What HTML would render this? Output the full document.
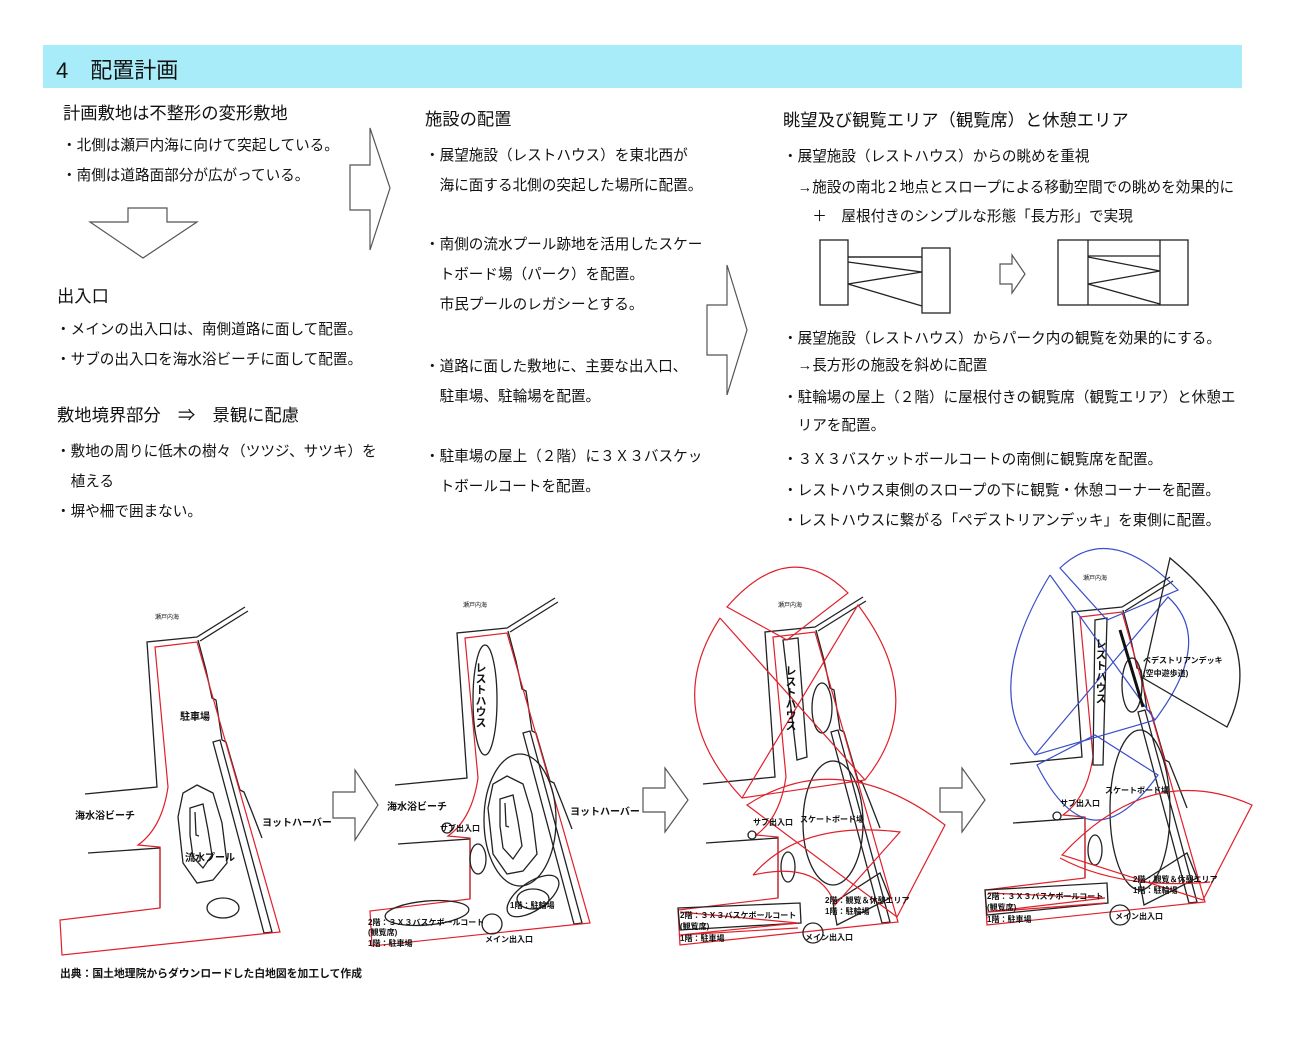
<!DOCTYPE html>
<html><head><meta charset="utf-8"><style>
html,body{margin:0;padding:0;background:#fff;}
svg{display:block;}
text{font-family:"Liberation Sans","Noto Sans CJK JP",sans-serif;fill:#111;}
.t{font-size:14.6px;}
.h{font-size:17.3px;}
.s{font-size:10px;font-weight:bold;}
.xs{font-size:6px;}
.k{fill:none;stroke:#222;stroke-width:1.3;}
.r{fill:none;stroke:#e0202a;stroke-width:1.2;}
.b{fill:none;stroke:#3b4fc8;stroke-width:1.2;}
.ar{fill:#fff;stroke:#555;stroke-width:1.2;}
</style></head><body>
<svg width="1300" height="1060" viewBox="0 0 1300 1060" xmlns="http://www.w3.org/2000/svg">
<defs>
<g id="base">
 <polyline class="k" points="245,607 197,637 147,642 157,787 85,794"/>
 <polyline class="k" points="248,611 200,641"/>
 <polyline class="k" points="198,640 206,670 212,698 216,700 222,740 226,742 240,790 244,792 252,812 262,838"/>
 <polygon class="k" points="213,742 220,740 272,932 264,933"/>
 <polyline class="k" points="88,853 160,848 160,908"/>
 <path class="r" d="M155,647 L197,642 L280,932 L62,955 L60,920 L160,908 L160,847 L138,845 Q162,828 168,787 Z"/>
</g>
<g id="pool">
 <polygon class="k" points="197,785 213,793 222,823 227,863 213,880 197,883 183,863 178,817 183,793"/>
 <polygon class="k" points="190,808 203,804 208,830 212,855 203,868 193,857 190,835"/>
 <polyline class="k" points="195,812 196,835 199,836"/>
 <ellipse class="k" cx="223" cy="908" rx="16" ry="10"/>
</g>
</defs>

<!-- header -->
<rect x="43" y="45" width="1199" height="43" fill="#a8ecfa"/>
<text x="56" y="78" style="font-size:22px">4　配置計画</text>

<!-- column 1 -->
<text class="h" x="63" y="119">計画敷地は不整形の変形敷地</text>
<text class="t" x="62" y="150">・北側は瀬戸内海に向けて突起している。</text>
<text class="t" x="62" y="180">・南側は道路面部分が広がっている。</text>
<polygon class="ar" points="128,208 167,208 167,222 197,222 143,258 90,222 128,222"/>
<text class="h" x="57" y="302">出入口</text>
<text class="t" x="56" y="334">・メインの出入口は、南側道路に面して配置。</text>
<text class="t" x="56" y="364">・サブの出入口を海水浴ビーチに面して配置。</text>
<text class="h" x="57" y="421">敷地境界部分　⇒　景観に配慮</text>
<text class="t" x="56" y="456">・敷地の周りに低木の樹々（ツツジ、サツキ）を</text>
<text class="t" x="56" y="486">　植える</text>
<text class="t" x="56" y="516">・塀や柵で囲まない。</text>
<polygon class="ar" points="350,165 370,165 370,128 390,188 370,250 370,210 350,210"/>

<!-- column 2 -->
<text class="h" x="425" y="125">施設の配置</text>
<text class="t" x="425" y="160">・展望施設（レストハウス）を東北西が</text>
<text class="t" x="425" y="190">　海に面する北側の突起した場所に配置。</text>
<text class="t" x="425" y="249">・南側の流水プール跡地を活用したスケー</text>
<text class="t" x="425" y="279">　トボード場（パーク）を配置。</text>
<text class="t" x="425" y="309">　市民プールのレガシーとする。</text>
<text class="t" x="425" y="371">・道路に面した敷地に、主要な出入口、</text>
<text class="t" x="425" y="401">　駐車場、駐輪場を配置。</text>
<text class="t" x="425" y="461">・駐車場の屋上（２階）に３Ｘ３バスケッ</text>
<text class="t" x="425" y="491">　トボールコートを配置。</text>
<polygon class="ar" points="707,305 727,305 727,265 747,330 727,395 727,355 707,355"/>

<!-- column 3 -->
<text class="h" x="783" y="126">眺望及び観覧エリア（観覧席）と休憩エリア</text>
<text class="t" x="783" y="161">・展望施設（レストハウス）からの眺めを重視</text>
<text class="t" x="783" y="192">　→施設の南北２地点とスロープによる移動空間での眺めを効果的に</text>
<text class="t" x="783" y="221">　　＋　屋根付きのシンプルな形態「長方形」で実現</text>
<rect class="k" x="820" y="240" width="28" height="65"/>
<rect class="k" x="922" y="248" width="28" height="65"/>
<polyline class="k" points="848,257 922,257 M848,257" />
<polyline class="k" points="848,257 922,257"/>
<polyline class="k" points="848,262 922,272 848,284 922,306"/>
<polygon class="ar" points="1000,264 1012,264 1012,255 1025,274 1012,293 1012,284 1000,284"/>
<rect class="k" x="1058" y="240" width="130" height="65"/>
<line class="k" x1="1088" y1="240" x2="1088" y2="305"/>
<line class="k" x1="1160" y1="240" x2="1160" y2="305"/>
<polyline class="k" points="1088,256 1160,256"/>
<polyline class="k" points="1088,257 1160,271 1088,284 1160,304"/>
<text class="t" x="783" y="343">・展望施設（レストハウス）からパーク内の観覧を効果的にする。</text>
<text class="t" x="783" y="370">　→長方形の施設を斜めに配置</text>
<text class="t" x="783" y="402">・駐輪場の屋上（２階）に屋根付きの観覧席（観覧エリア）と休憩エ</text>
<text class="t" x="783" y="430">　リアを配置。</text>
<text class="t" x="783" y="464">・３Ｘ３バスケットボールコートの南側に観覧席を配置。</text>
<text class="t" x="783" y="495">・レストハウス東側のスロープの下に観覧・休憩コーナーを配置。</text>
<text class="t" x="783" y="525">・レストハウスに繋がる「ペデストリアンデッキ」を東側に配置。</text>

<!-- map 1 -->
<use href="#base"/>
<use href="#pool"/>
<text class="xs" x="155" y="619">瀬戸内海</text>
<text class="s" x="180" y="720">駐車場</text>
<text class="s" x="75" y="819">海水浴ビーチ</text>
<text class="s" x="185" y="861">流水プール</text>
<text class="s" x="262" y="826">ヨットハーバー</text>
<polygon class="ar" points="333,792 355,792 355,770 378,805 355,840 355,818 333,818"/>

<!-- map 2 -->
<g transform="translate(310,-9)">
 <use href="#base"/>
 <use href="#pool"/>
 <ellipse class="k" cx="175" cy="709" rx="12" ry="55"/>
 <ellipse class="k" cx="210" cy="829" rx="36" ry="66"/>
 <ellipse class="k" cx="223" cy="905" rx="30" ry="14" transform="rotate(-35 223 905)"/>
 <ellipse class="k" cx="117" cy="922" rx="42" ry="12" transform="rotate(-5 117 922)"/>
 <circle class="k" cx="182" cy="933" r="10"/>
 <circle class="k" cx="137" cy="837" r="5"/>
 <ellipse class="k" cx="168" cy="868" rx="8" ry="15"/>
</g>
<text class="xs" x="463" y="607">瀬戸内海</text>
<text class="s" x="387" y="810">海水浴ビーチ</text>
<text class="s" x="570" y="815">ヨットハーバー</text>
<text class="s" x="440" y="831" style="font-size:8px">サブ出入口</text>
<text class="s" x="510" y="908" style="font-size:8px">1階：駐輪場</text>
<text class="s" x="368" y="925" style="font-size:8px">2階：３Ｘ３バスケボールコート</text>
<text class="s" x="368" y="935" style="font-size:8px">(観覧席)</text>
<text class="s" x="368" y="946" style="font-size:8px">1階：駐車場</text>
<text class="s" x="485" y="942" style="font-size:8px">メイン出入口</text>
<text class="s" x="480" y="662" style="font-size:11px;writing-mode:tb">レストハウス</text>
<polygon class="ar" points="643,788 665,788 665,768 688,800 665,832 665,812 643,812"/>

<!-- map 3 -->
<g transform="translate(618,-10)">
 <use href="#base"/>
 <polygon class="k" points="165,650 180,648 189,767 179,770"/>
 <ellipse class="k" cx="204" cy="718" rx="10" ry="25"/>
 <ellipse class="k" cx="215" cy="833" rx="30" ry="62"/>
 <ellipse class="k" cx="170" cy="877" rx="7" ry="15"/>
 <polygon class="k" points="215,913 262,883 272,908 219,935"/>
 <polygon class="k" points="60,918 182,913 183,933 62,940"/>
 <circle class="k" cx="195" cy="943" r="10"/>
 <circle class="k" cx="134" cy="845" r="4"/>
</g>
<path class="r" d="M727,607 Q790,535 848,593 L787,640 Z"/>
<path class="r" d="M720,618 Q660,710 742,798 L865,780 Q930,700 858,605 L742,798"/>
<line class="r" x1="720" y1="618" x2="865" y2="780"/>
<path class="r" d="M747,805 Q840,745 945,825 L897,917 Z"/>
<path class="r" d="M753,875 Q800,820 900,832 L835,905 Q820,860 753,875"/>
<polyline class="r" points="680,912 798,923 680,935 798,928"/>
<text class="xs" x="778" y="607">瀬戸内海</text>
<text class="s" x="753" y="825" style="font-size:8px">サブ出入口</text>
<text class="s" x="800" y="822" style="font-size:8px">スケートボード場</text>
<text class="s" x="825" y="903" style="font-size:8px">2階：観覧＆休憩エリア</text>
<text class="s" x="825" y="914" style="font-size:8px">1階：駐輪場</text>
<text class="s" x="680" y="918" style="font-size:8px">2階：３Ｘ３バスケボールコート</text>
<text class="s" x="680" y="929" style="font-size:8px">(観覧席)</text>
<text class="s" x="680" y="941" style="font-size:8px">1階：駐車場</text>
<text class="s" x="805" y="940" style="font-size:8px">メイン出入口</text>
<text class="s" x="790" y="665" style="font-size:11px;writing-mode:tb">レストハウス</text>
<polygon class="ar" points="940,788 962,788 962,768 985,800 962,832 962,812 940,812"/>

<!-- map 4 -->
<g transform="translate(925,-30)">
 <use href="#base"/>
 <polygon class="k" points="170,650 182,648 178,795 168,795"/>
 <ellipse class="k" cx="207" cy="715" rx="10" ry="27"/>
 <ellipse class="k" cx="215" cy="840" rx="30" ry="80"/>
 <ellipse class="k" cx="170" cy="880" rx="7" ry="15"/>
 <polygon class="k" points="215,913 262,883 272,908 219,935"/>
 <polygon class="k" points="60,920 182,913 183,933 62,945"/>
 <circle class="k" cx="195" cy="945" r="10"/>
 <circle class="k" cx="132" cy="846" r="4"/>
</g>
<path class="b" d="M1060,568 Q1110,520 1178,590 L1107,620 Z"/>
<path class="b" d="M1050,575 Q980,690 1035,755 L1155,720 Q1215,640 1168,597 L1035,755"/>
<line class="b" x1="1050" y1="575" x2="1155" y2="720"/>
<path class="b" d="M1037,765 Q1090,870 1158,775 L1095,735 Z"/>
<path class="k" d="M1170,558 Q1270,640 1227,727 L1143,678 Z"/>
<line x1="1120" y1="630" x2="1143" y2="707" stroke="#111" stroke-width="3"/>
<path class="r" d="M1062,855 Q1150,760 1252,805 L1203,900 Z"/>
<path class="r" d="M1060,858 Q1120,890 1210,882"/>
<polyline class="r" points="988,893 1105,898 988,912 1105,903"/>
<text class="xs" x="1083" y="580">瀬戸内海</text>
<text class="s" x="1143" y="663" style="font-size:8px">ペデストリアンデッキ</text>
<text class="s" x="1143" y="676" style="font-size:8px">(空中遊歩道)</text>
<text class="s" x="1060" y="806" style="font-size:8px">サブ出入口</text>
<text class="s" x="1105" y="793" style="font-size:8px">スケートボード場</text>
<text class="s" x="1133" y="882" style="font-size:8px">2階：観覧＆休憩エリア</text>
<text class="s" x="1133" y="893" style="font-size:8px">1階：駐輪場</text>
<text class="s" x="987" y="899" style="font-size:8px">2階：３Ｘ３バスケボールコート</text>
<text class="s" x="987" y="910" style="font-size:8px">(観覧席)</text>
<text class="s" x="987" y="922" style="font-size:8px">1階：駐車場</text>
<text class="s" x="1115" y="919" style="font-size:8px">メイン出入口</text>
<text class="s" x="1100" y="638" style="font-size:11px;writing-mode:tb">レストハウス</text>

<text x="60" y="977" style="font-size:10.8px;font-weight:bold">出典：国土地理院からダウンロードした白地図を加工して作成</text>
</svg>
</body></html>
